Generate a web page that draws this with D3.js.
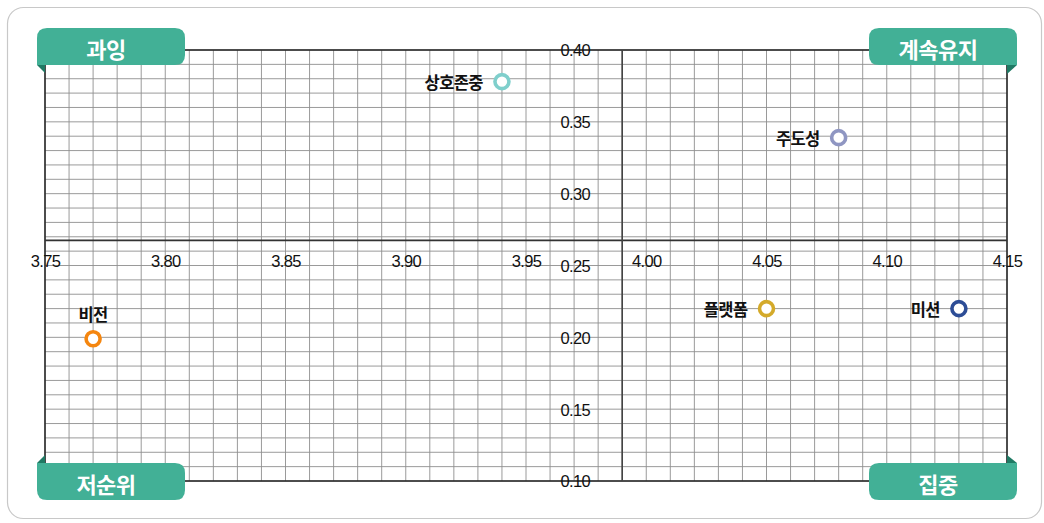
<!DOCTYPE html>
<html><head><meta charset="utf-8">
<script src="https://cdn.jsdelivr.net/npm/d3@7"></script>
<style>
html,body{margin:0;padding:0;background:#fff;}
svg{display:block;}
</style></head>
<body>
<script>
const names = ["상호존중", "주도성", "비전", "플랫폼", "미션"];
const xValues = [3.94, 4.08, 3.77, 4.05, 4.13];
const yValues = [0.378, 0.339, 0.199, 0.22, 0.22];
const colors = ["#7fcfcc", "#8f96c2", "#f5860f", "#d4aa2a", "#2d4d96"];
const labelPos = ["left", "left", "top", "left", "left"];
const xTicks = [3.75, 3.80, 3.85, 3.90, 3.95, 4.00, 4.05, 4.10, 4.15];
const yTicks = [0.10, 0.15, 0.20, 0.25, 0.30, 0.35, 0.40];
const xCross = 3.99, yCross = 0.2675;
const quadrants = ["과잉", "계속유지", "저순위", "집중"];

const W = 1044, H = 523;
const svg = d3.select("body").append("svg").attr("width", W).attr("height", H);
const L = 45, R = 1007, T = 50, B = 481;
const x = d3.scaleLinear().domain([3.75, 4.15]).range([L, R]);
const y = d3.scaleLinear().domain([0.10, 0.40]).range([B, T]);

// frame
svg.append("rect").attr("x", 7.5).attr("y", 7.5).attr("width", 1034).attr("height", 511)
  .attr("rx", 16).attr("fill", "#fff").attr("stroke", "#c8c8c8").attr("stroke-width", 1.2);

// grid
const g = svg.append("g");
g.selectAll("line.vx").data(d3.range(3.75, 4.1501, 0.01)).enter().append("line")
  .attr("x1", d => x(d)).attr("x2", d => x(d)).attr("y1", T).attr("y2", B)
  .attr("stroke", "#8e8e8e").attr("stroke-width", 0.9);
g.selectAll("line.hy").data(d3.range(0.10, 0.4001, 0.01)).enter().append("line")
  .attr("x1", L).attr("x2", R).attr("y1", d => y(d)).attr("y2", d => y(d))
  .attr("stroke", "#8e8e8e").attr("stroke-width", 0.9);

// border
svg.append("rect").attr("x", L).attr("y", T).attr("width", R - L).attr("height", B - T)
  .attr("fill", "none").attr("stroke", "#222").attr("stroke-width", 1.5);

// cross axes
svg.append("line").attr("x1", L).attr("x2", R).attr("y1", y(yCross)).attr("y2", y(yCross))
  .attr("stroke", "#333").attr("stroke-width", 1.6);
svg.append("line").attr("x1", x(xCross)).attr("x2", x(xCross)).attr("y1", T).attr("y2", B)
  .attr("stroke", "#444").attr("stroke-width", 1.6);

const tickFont = "'Liberation Sans Narrow','Liberation Sans',sans-serif";
// x tick labels
const xAxis = d3.axisBottom(x).tickValues(xTicks).tickFormat(d3.format(".2f")).tickSize(0).tickPadding(0);
const xa = svg.append("g").attr("transform", `translate(0,${y(yCross) + 15})`).call(xAxis);
xa.select(".domain").remove();
xa.selectAll("text").attr("font-family", tickFont).attr("font-size", 16.5).attr("fill", "#111")
  .attr("letter-spacing", "-0.6px");

// y tick labels
const yAxis = d3.axisLeft(y).tickValues(yTicks).tickFormat(d3.format(".2f")).tickSize(0).tickPadding(0);
const ya = svg.append("g").attr("transform", `translate(${x(xCross) - 32},0)`).call(yAxis);
ya.select(".domain").remove();
ya.selectAll("text").attr("font-family", tickFont).attr("font-size", 16.5).attr("fill", "#111")
  .attr("letter-spacing", "-0.6px").attr("dy", "0.36em");

// badges
const teal = "#42b096", tealDark = "#1f7a64";
const bw = 148, bh = 37, rr = 10;
function badge(x0, y0, text, fold) {
  const x1 = x0 + bw, y1 = y0 + bh;
  let p;
  if (fold === "bl") {
    p = `M${x0},${y1} L${x0},${y0 + rr} Q${x0},${y0} ${x0 + rr},${y0} L${x1 - rr},${y0} Q${x1},${y0} ${x1},${y0 + rr} L${x1},${y1 - rr} Q${x1},${y1} ${x1 - rr},${y1} Z`;
    svg.append("path").attr("d", `M${x0},${y1} L${x0 + 8},${y1} L${x0 + 8},${y1 + 8} Z`).attr("fill", tealDark);
  } else if (fold === "br") {
    p = `M${x1},${y1} L${x0 + rr},${y1} Q${x0},${y1} ${x0},${y1 - rr} L${x0},${y0 + rr} Q${x0},${y0} ${x0 + rr},${y0} L${x1 - rr},${y0} Q${x1},${y0} ${x1},${y0 + rr} Z`;
    svg.append("path").attr("d", `M${x1},${y1} L${x1 - 10},${y1} L${x1 - 10},${y1 + 9} Z`).attr("fill", tealDark);
  } else if (fold === "tl") {
    p = `M${x0},${y0} L${x1 - rr},${y0} Q${x1},${y0} ${x1},${y0 + rr} L${x1},${y1 - rr} Q${x1},${y1} ${x1 - rr},${y1} L${x0 + rr},${y1} Q${x0},${y1} ${x0},${y1 - rr} Z`;
    svg.append("path").attr("d", `M${x0},${y0} L${x0 + 8},${y0} L${x0 + 8},${y0 - 8} Z`).attr("fill", tealDark);
  } else {
    p = `M${x1},${y0} L${x1},${y1 - rr} Q${x1},${y1} ${x1 - rr},${y1} L${x0 + rr},${y1} Q${x0},${y1} ${x0},${y1 - rr} L${x0},${y0 + rr} Q${x0},${y0} ${x0 + rr},${y0} Z`;
    svg.append("path").attr("d", `M${x1},${y0} L${x1 - 10},${y0} L${x1 - 10},${y0 - 8} Z`).attr("fill", tealDark);
  }
  svg.append("path").attr("d", p).attr("fill", teal);
  svg.append("text").attr("x", x0 + bw / 2 - 5).attr("y", y0 + bh / 2 + 1).attr("text-anchor", "middle")
    .attr("dominant-baseline", "central").attr("fill", "#fff")
    .attr("font-family", "'Noto Sans CJK KR',sans-serif").attr("font-weight", 700).attr("font-size", 22)
    .attr("letter-spacing", "-0.5px").text(text);
}
badge(37, 28, quadrants[0], "bl");
badge(869, 28, quadrants[1], "br");
badge(37, 463, quadrants[2], "tl");
badge(869, 463, quadrants[3], "tr");

// points
const data = names.map((n, i) => ({ n, x: xValues[i], y: yValues[i], c: colors[i], p: labelPos[i] }));
svg.selectAll("circle.pt").data(data).enter().append("circle")
  .attr("cx", d => x(d.x)).attr("cy", d => y(d.y)).attr("r", 7)
  .attr("fill", "#fff").attr("stroke", d => d.c).attr("stroke-width", 3.6);
svg.selectAll("text.lbl").data(data).enter().append("text")
  .attr("x", d => d.p === "left" ? x(d.x) - 19 : x(d.x))
  .attr("y", d => d.p === "left" ? y(d.y) : y(d.y) - 25)
  .attr("text-anchor", d => d.p === "left" ? "end" : "middle")
  .attr("dominant-baseline", "central")
  .attr("font-family", "'Noto Sans CJK KR',sans-serif").attr("font-weight", 700).attr("font-size", 16.5)
  .attr("letter-spacing", "-0.6px").attr("fill", "#111").text(d => d.n);
</script>
</body></html>
